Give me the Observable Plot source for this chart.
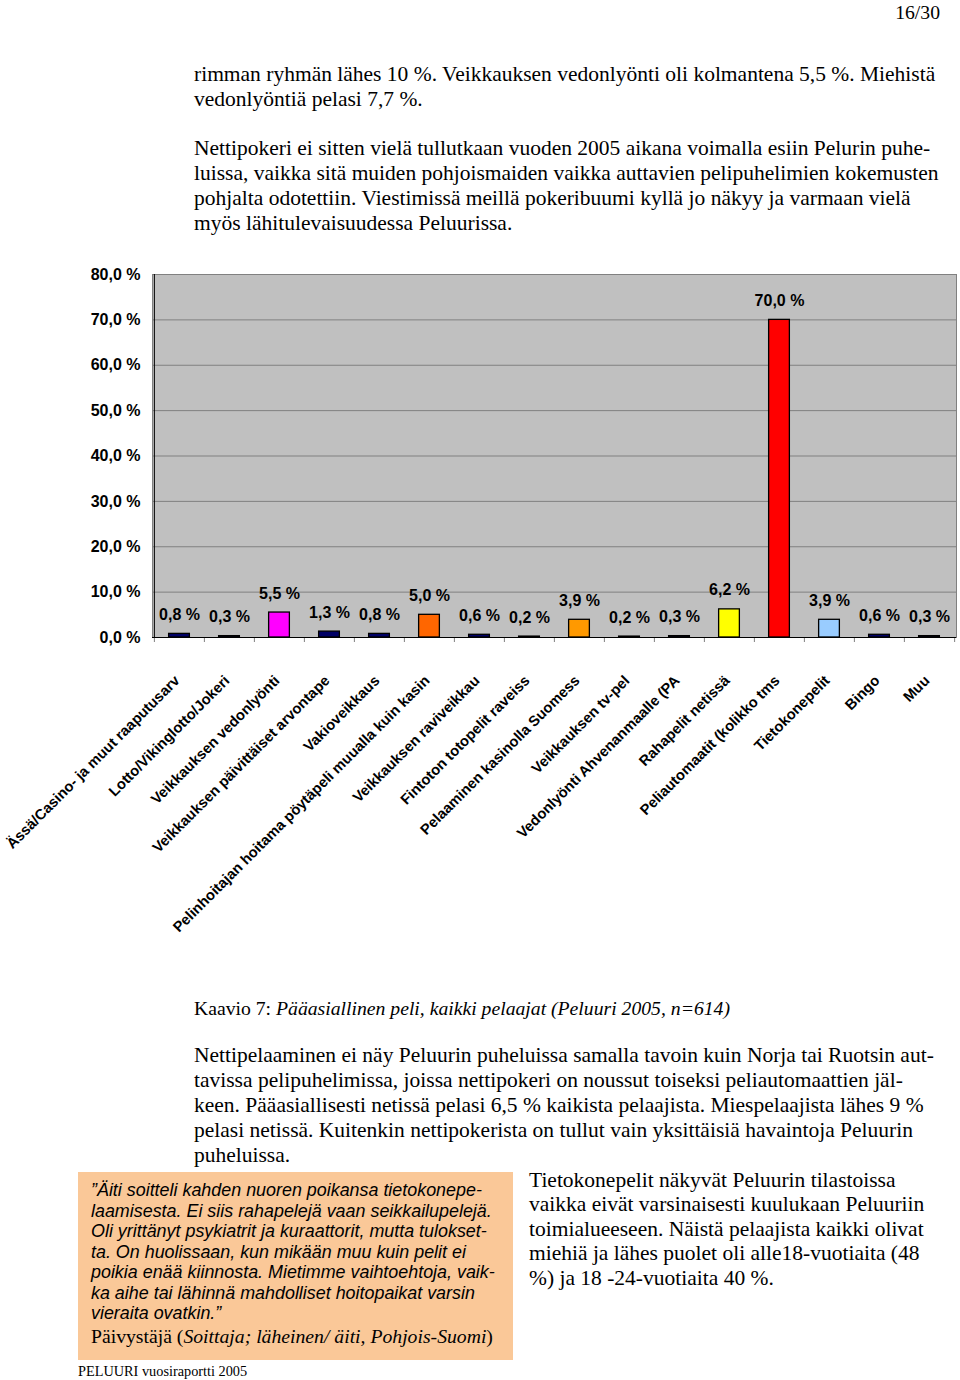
<!DOCTYPE html>
<html><head><meta charset="utf-8">
<script src="https://cdn.jsdelivr.net/npm/d3@7"></script>
<script src="https://cdn.jsdelivr.net/npm/@observablehq/plot@0.6"></script>
<style>
html,body{margin:0;padding:0;background:#fff;}
body{width:960px;height:1380px;position:relative;overflow:hidden;font-family:"Liberation Serif","Times New Roman",serif;color:#000;}
.ln{position:absolute;white-space:nowrap;font-size:21.5px;line-height:25px;}
.qt{position:absolute;white-space:nowrap;font-family:"Liberation Sans",Arial,sans-serif;font-style:italic;font-size:17.9px;line-height:20.5px;}
#box{position:absolute;left:78px;top:1172px;width:435px;height:188px;background:#FAC898;}
#chart{position:absolute;left:0;top:255px;}
</style></head><body>
<div id="box"></div>
<div id="chart"></div>
<script>
// ---- data ----
const categories = [
  "Ässä/Casino- ja muut raaputusarv",
  "Lotto/Vikinglotto/Jokeri",
  "Veikkauksen vedonlyönti",
  "Veikkauksen päivittäiset arvontape",
  "Vakioveikkaus",
  "Pelinhoitajan hoitama pöytäpeli muualla kuin kasin",
  "Veikkauksen raviveikkau",
  "Fintoton totopelit raveiss",
  "Pelaaminen kasinolla Suomess",
  "Veikkauksen tv-pel",
  "Vedonlyönti Ahvenanmaalle (PA",
  "Rahapelit netissä",
  "Peliautomaatit (kolikko tms",
  "Tietokonepelit",
  "Bingo",
  "Muu"
];
const values = [0.8, 0.3, 5.5, 1.3, 0.8, 5.0, 0.6, 0.2, 3.9, 0.2, 0.3, 6.2, 70.0, 3.9, 0.6, 0.3];
const barColors = ["#000066","#000066","#FF00FF","#000066","#000066","#FF6600","#000066","#000066",
                   "#FF9900","#000066","#000066","#FFFF00","#FF0000","#99CCFF","#000066","#000066"];
const yTicks = [0, 10, 20, 30, 40, 50, 60, 70, 80];

const pageNumber = "16/30";
const para1 = [
  "rimman ryhmän lähes 10 %. Veikkauksen vedonlyönti oli kolmantena 5,5 %. Miehistä",
  "vedonlyöntiä pelasi 7,7 %."
];
const para2 = [
  "Nettipokeri ei sitten vielä tullutkaan vuoden 2005 aikana voimalla esiin Pelurin puhe-",
  "luissa, vaikka sitä muiden pohjoismaiden vaikka auttavien pelipuhelimien kokemusten",
  "pohjalta odotettiin. Viestimissä meillä pokeribuumi kyllä jo näkyy ja varmaan vielä",
  "myös lähitulevaisuudessa Peluurissa."
];
const captionLabel = "Kaavio 7: ";
const captionText = "Pääasiallinen peli, kaikki pelaajat (Peluuri 2005, n=614)";
const para3 = [
  "Nettipelaaminen ei näy Peluurin puheluissa samalla tavoin kuin Norja tai Ruotsin aut-",
  "tavissa pelipuhelimissa, joissa nettipokeri on noussut toiseksi peliautomaattien jäl-",
  "keen. Pääasiallisesti netissä pelasi 6,5 % kaikista pelaajista. Miespelaajista lähes 9 %",
  "pelasi netissä. Kuitenkin nettipokerista on tullut vain yksittäisiä havaintoja Peluurin",
  "puheluissa."
];
const quoteLines = [
  "”Äiti soitteli kahden nuoren poikansa tietokonepe-",
  "laamisesta. Ei siis rahapelejä vaan seikkailupelejä.",
  "Oli yrittänyt psykiatrit ja kuraattorit, mutta tulokset-",
  "ta. On huolissaan, kun mikään muu kuin pelit ei",
  "poikia enää kiinnosta. Mietimme vaihtoehtoja, vaik-",
  "ka aihe tai lähinnä mahdolliset hoitopaikat varsin",
  "vieraita ovatkin.”"
];
const quoteSourcePlain = "Päivystäjä (";
const quoteSourceItalic = "Soittaja; läheinen/ äiti, Pohjois-Suomi";
const rightCol = [
  "Tietokonepelit näkyvät Peluurin tilastoissa",
  "vaikka eivät varsinaisesti kuulukaan Peluuriin",
  "toimialueeseen. Näistä pelaajista kaikki olivat",
  "miehiä ja lähes puolet oli alle18-vuotiaita (48",
  "%) ja 18 -24-vuotiaita 40 %."
];
const footer = "PELUURI vuosiraportti 2005";

// ---- page text ----
function addLine(parent, cls, left, top, content, extra) {
  const d = document.createElement("div");
  d.className = cls;
  d.style.left = left + "px";
  d.style.top = top + "px";
  if (typeof content === "string") d.textContent = content; else content.forEach(n => d.appendChild(n));
  if (extra) Object.assign(d.style, extra);
  parent.appendChild(d);
  return d;
}
function span(text, italic) {
  const s = document.createElement("span");
  s.textContent = text;
  if (italic) s.style.fontStyle = "italic";
  return s;
}
const body = document.body;
addLine(body, "ln", 0, 0, pageNumber, {left: "auto", right: "20px", fontSize: "19.7px"});
para1.forEach((t, i) => addLine(body, "ln", 194, 61.5 + i * 25, t));
para2.forEach((t, i) => addLine(body, "ln", 194, 135.5 + i * 25, t));
addLine(body, "ln", 194, 995.5, [span(captionLabel), span(captionText, true)], {fontSize: "19.7px"});
para3.forEach((t, i) => addLine(body, "ln", 194, 1042.5 + i * 25, t));
quoteLines.forEach((t, i) => addLine(body, "qt", 91, 1180 + i * 20.5, t));
addLine(body, "ln", 91, 1323.5, [span(quoteSourcePlain), span(quoteSourceItalic, true), span(")")], {fontSize: "19.7px"});
rightCol.forEach((t, i) => addLine(body, "ln", 529, 1167.5 + i * 24.6, t));
addLine(body, "ln", 78, 1362, footer, {fontSize: "14.3px", lineHeight: "18px"});

// ---- chart ----
const data = categories.map((c, i) => ({category: c, value: values[i], color: barColors[i]}));
const W = 960, H = 730, mL = 152, mR = 4, mT = 19, mB = 348;
const step = (W - mL - mR) / categories.length;
const pxPerUnit = (H - mT - mB) / 80;
const fmt = v => v.toFixed(1).replace(".", ",") + " %";
const sans = "'Liberation Sans',Arial,sans-serif";

const chart = Plot.plot({
  width: W, height: H,
  marginLeft: mL, marginRight: mR, marginTop: mT, marginBottom: mB,
  style: {background: "transparent", fontFamily: sans, overflow: "visible"},
  x: {domain: categories, padding: 0, axis: null},
  y: {domain: [0, 80], axis: null},
  color: {type: "identity"},
  marks: [
    Plot.frame({fill: "#C0C0C0", stroke: "#808080"}),
    Plot.gridY(yTicks, {stroke: "#808080", strokeOpacity: 1, strokeWidth: 1}),
    Plot.axisY(yTicks, {anchor: "left", label: null, tickSize: 4, tickPadding: 8, tickFormat: fmt,
      fontWeight: "bold", fontSize: 16, fontFamily: sans, stroke: null, fill: "#000"}),
    Plot.ruleX(categories, {x: d => d, dx: -step / 2, y1: 0, y2: -5 / pxPerUnit, stroke: "#808080"}),
    Plot.ruleX(categories.slice(-1), {x: d => d, dx: step / 2, y1: 0, y2: -5 / pxPerUnit, stroke: "#808080"}),
    Plot.barY(data, {x: "category", y: "value", fill: "color", stroke: "#000", strokeWidth: 1.3,
      insetLeft: (step - 21) / 2, insetRight: (step - 21) / 2}),
    Plot.ruleY([0], {stroke: "#000"}),
    Plot.ruleX(categories.slice(0, 1), {x: d => d, dx: -step / 2, y1: 0, y2: 80, stroke: "#000"}),
    Plot.text(data, {x: "category", y: "value", text: d => fmt(d.value), dy: -19,
      fontWeight: "bold", fontSize: 16, fontFamily: sans, fill: "#000"}),
    Plot.text(data, {x: "category", text: "category", frameAnchor: "bottom", dy: 44, dx: 1,
      rotate: -45, textAnchor: "end", fontWeight: "bold", fontSize: 14.7, fill: "#000"})
  ]
});
document.getElementById("chart").appendChild(chart);
</script>
</body></html>
